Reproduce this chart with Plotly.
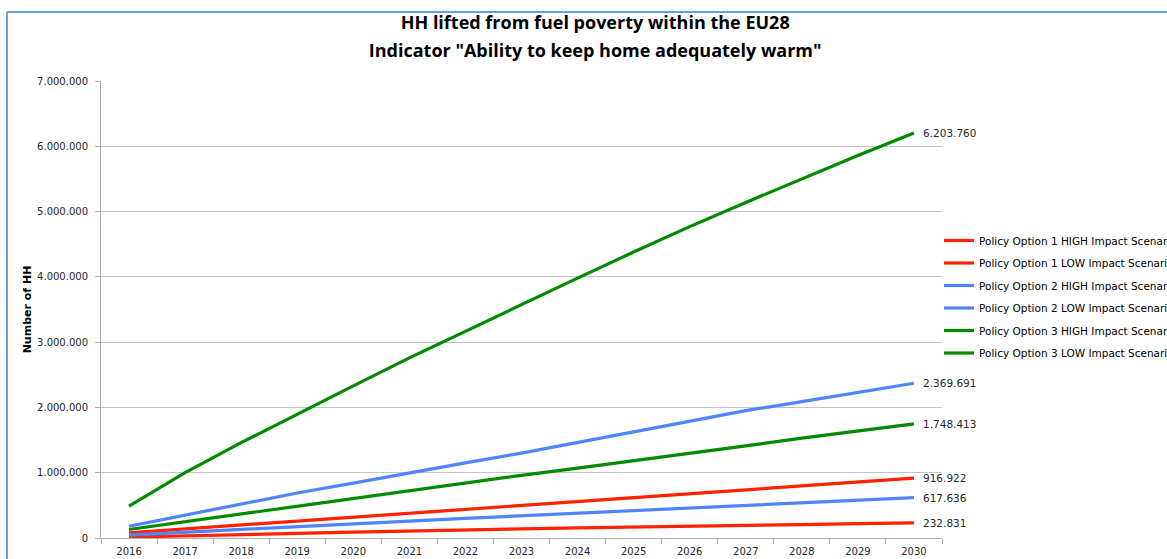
import plotly.graph_objects as go

years = [str(y) for y in range(2016, 2031)]

series_names = [
    "Policy Option 1 HIGH Impact Scenario",
    "Policy Option 1 LOW Impact Scenario",
    "Policy Option 2 HIGH Impact Scenario",
    "Policy Option 2 LOW Impact Scenario",
    "Policy Option 3 HIGH Impact Scenario",
    "Policy Option 3 LOW Impact Scenario",
]

p1_high = [80000, 140000, 200000, 260000, 320000, 380000, 440000, 500000,
           560000, 620000, 680000, 740000, 800000, 860000, 916922]
p1_low = [15000, 30000, 50000, 70000, 90000, 110000, 125000, 140000,
          155000, 165000, 180000, 190000, 205000, 220000, 232831]
p2_high = [180000, 350000, 520000, 690000, 840000, 1000000, 1150000, 1300000,
           1460000, 1630000, 1790000, 1950000, 2090000, 2230000, 2369691]
p2_low = [45000, 90000, 130000, 180000, 220000, 260000, 300000, 340000,
          380000, 420000, 460000, 500000, 540000, 580000, 617636]
p3_high = [490000, 1000000, 1460000, 1900000, 2330000, 2760000, 3170000, 3580000,
           3980000, 4380000, 4770000, 5140000, 5500000, 5860000, 6203760]
p3_low = [130000, 250000, 370000, 490000, 600000, 730000, 850000, 960000,
          1070000, 1180000, 1300000, 1410000, 1530000, 1640000, 1748413]

series_values = [p1_high, p1_low, p2_high, p2_low, p3_high, p3_low]
colors = ["#FF2200", "#FF2200", "#4F84FF", "#4F84FF", "#008A00", "#008A00"]

title_line1 = "HH lifted from fuel poverty within the EU28"
title_line2 = "Indicator \"Ability to keep home adequately warm\""


def fmt(v):
    return f"{v:,.0f}".replace(",", ".")


fig = go.Figure()
annotations = []
last_idx = len(years) - 1
for i, (name, vals, col) in enumerate(zip(series_names, series_values, colors)):
    fig.add_trace(go.Scatter(
        x=years, y=vals, name=name, mode="lines",
        line=dict(color=col, width=3.2),
        legendgroup=f"g{i}",
    ))
    annotations.append(dict(
        x=last_idx, y=vals[-1], xref="x", yref="y",
        text=fmt(vals[-1]), showarrow=False,
        xanchor="left", yanchor="middle", xshift=7,
        font=dict(family="DejaVu Sans", size=10.5, color="#262626"),
    ))

fig.update_layout(
    width=1167, height=559,
    margin=dict(l=101, r=225, t=81, b=21, autoexpand=False),
    paper_bgcolor="white", plot_bgcolor="white",
    separators=",.",
    font=dict(family="DejaVu Sans", size=10, color="#262626"),
    title=dict(
        text=(f"<span style='font-size:18px'>{title_line1}</span><br>"
              f"<span style='font-size:18px'>{title_line2}</span>"),
        x=0.51, xref="container", xanchor="center",
        y=1 - 29 / 559, yref="container", yanchor="middle",
        font=dict(family="Open Sans", size=21.5, color="#000000", weight="bold"),
    ),
    showlegend=True,
    legend=dict(
        x=939 / 1167, xref="container", xanchor="left",
        y=1 - 226 / 559, yref="container", yanchor="top",
        font=dict(family="DejaVu Sans", size=10.5, color="#000000"),
        bgcolor="rgba(0,0,0,0)", tracegroupgap=3.5, itemwidth=30,
    ),
    xaxis=dict(
        type="category", range=[-0.5, 14.5],
        showgrid=False, showline=True, linecolor="#B0B0B0", linewidth=1,
        ticks="outside", tickson="boundaries", ticklen=5, tickcolor="#B0B0B0",
        tickfont=dict(family="DejaVu Sans", size=10, color="#262626"),
        ticklabelstandoff=4,
        zeroline=False,
    ),
    yaxis=dict(
        range=[0, 7000000], dtick=1000000, tickformat=",d",
        showgrid=True, gridcolor="#C4C4C4", gridwidth=1,
        showline=True, linecolor="#B0B0B0", linewidth=1,
        ticks="outside", ticklen=5, tickcolor="#B0B0B0",
        tickfont=dict(family="DejaVu Sans", size=10, color="#262626"),
        ticklabelstandoff=5,
        zeroline=False,
        title=dict(text="<b>Number of HH</b>", standoff=3,
                   font=dict(family="DejaVu Sans", size=11, color="#000000")),
    ),
    annotations=annotations,
    shapes=[
        dict(type="line", xref="paper", yref="paper",
             x0=(7 - 101) / 841, x1=(7 - 101) / 841, y0=(538 - 12) / 457, y1=(538 - 570) / 457,
             line=dict(color="#6A9FDB", width=2)),
        dict(type="line", xref="paper", yref="paper",
             x0=(7 - 101) / 841, x1=(1180 - 101) / 841, y0=(538 - 12) / 457, y1=(538 - 12) / 457,
             line=dict(color="#6A9FDB", width=2)),
    ],
)

fig.write_html("out.html")
